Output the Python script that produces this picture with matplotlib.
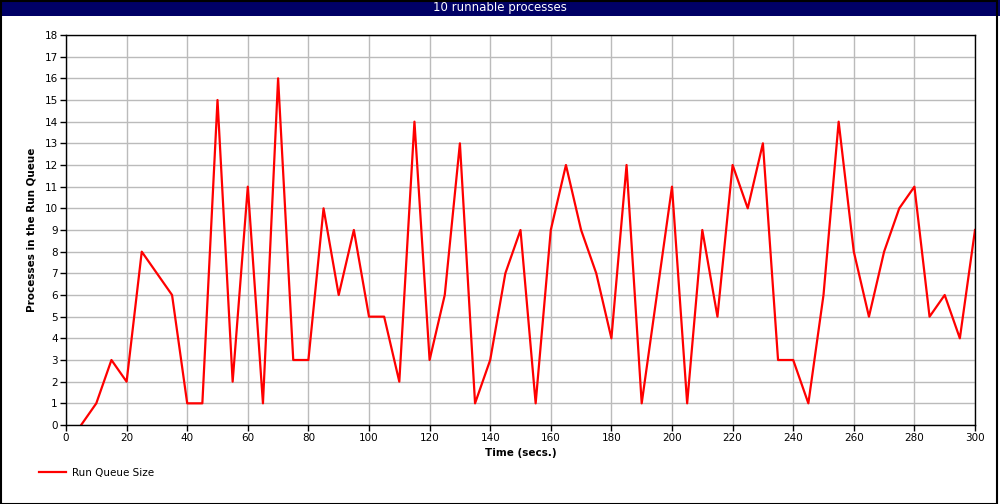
import matplotlib
matplotlib.use("Agg")
import matplotlib.pyplot as plt
from matplotlib.patches import Rectangle

# sample times (secs.) and run queue sizes
times = list(range(5, 301, 5))
run_queue = [0, 1, 3, 2, 8, 7, 6, 1, 1, 15,
             2, 11, 1, 16, 3, 3, 10, 6, 9, 5,
             5, 2, 14, 3, 6, 13, 1, 3, 7, 9,
             1, 9, 12, 9, 7, 4, 12, 1, 6, 11,
             1, 9, 5, 12, 10, 13, 3, 3, 1, 6,
             14, 8, 5, 8, 10, 11, 5, 6, 4, 9]

title = "10 runnable processes"
x_ticks = list(range(0, 301, 20))
y_ticks = list(range(0, 19))

plt.rcParams['font.family'] = ['DejaVu Sans']

fig = plt.figure(figsize=(10, 5.04), dpi=100)
W, H = 1000, 504

# title bar
fig.patches.append(Rectangle((0, 1 - 16 / H), 1, 16 / H, transform=fig.transFigure,
                             facecolor="#000066", edgecolor="none", zorder=0))
fig.text(0.5, 1 - 8 / H, title, color="white", ha="center", va="center", fontsize=8.5)
# outer border
fig.patches.append(Rectangle((0.5 / W, 0.5 / H), 1 - 3.5 / W, 1 - 1.5 / H, transform=fig.transFigure,
                             facecolor="none", edgecolor="black", linewidth=1.5, zorder=5))

ax = fig.add_axes([66 / W, 1 - 425 / H, (975 - 66) / W, (425 - 35) / H])
ax.plot(times, run_queue, color="red", linewidth=1.6, label="Run Queue Size")
ax.set_xlim(0, 300)
ax.set_ylim(0, 18)
ax.set_xticks(x_ticks)
ax.set_yticks(y_ticks)
ax.grid(True, color="#bbbbbb", linewidth=1)
ax.set_axisbelow(True)
ax.tick_params(labelsize=7.5, length=4, width=1, pad=2)
for s in ax.spines.values():
    s.set_linewidth(1)
ax.set_xlabel("Time (secs.)", fontsize=7.5, fontweight="bold", labelpad=3)
ax.set_ylabel("Processes in the Run Queue", fontsize=7.5, fontweight="bold", labelpad=6)

h, l = ax.get_legend_handles_labels()
fig.legend(h, l, loc="center left", bbox_to_anchor=(30 / W, 1 - 473 / H), frameon=False,
           fontsize=7.5, handlelength=2.6, handletextpad=0.5)

fig.savefig("out.png", dpi=100)
